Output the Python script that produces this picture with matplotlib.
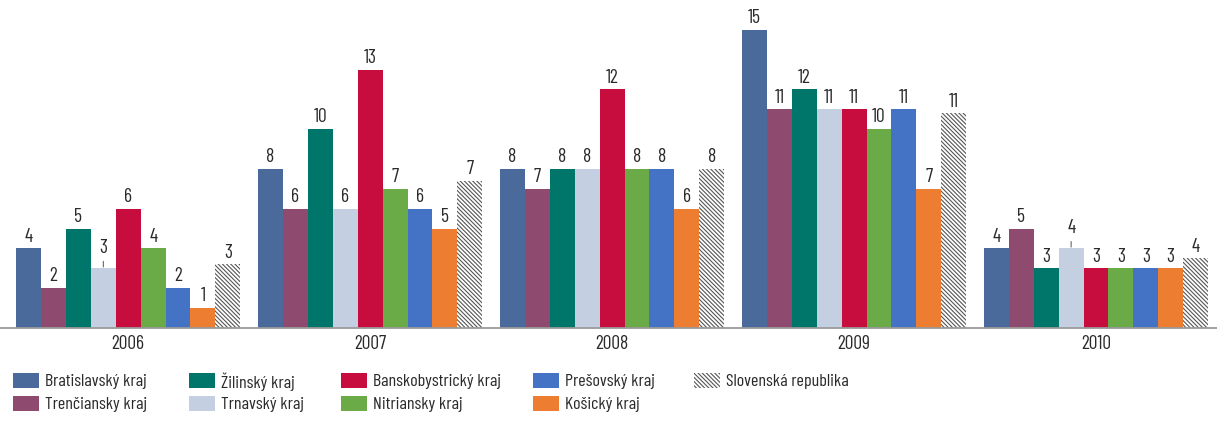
import numpy as np
import matplotlib.pyplot as plt
from matplotlib.patches import Rectangle

plt.rcParams['font.family'] = ['Barlow Condensed', 'DejaVu Sans']
plt.rcParams['hatch.linewidth'] = 0.8
plt.rcParams['hatch.color'] = '#555555'

years = ['2006', '2007', '2008', '2009', '2010']
regions = ['Bratislavský kraj', 'Trenčiansky kraj', 'Žilinský kraj', 'Trnavský kraj',
           'Banskobystrický kraj', 'Nitriansky kraj', 'Prešovský kraj', 'Košický kraj',
           'Slovenská republika']

bratislavsky = [4, 8, 8, 15, 4]
trenciansky = [2, 6, 7, 11, 5]
zilinsky = [5, 10, 8, 12, 3]
trnavsky = [3, 6, 8, 11, 4]
banskobystricky = [6, 13, 12, 11, 3]
nitriansky = [4, 7, 8, 10, 3]
presovsky = [2, 6, 8, 11, 3]
kosicky = [1, 5, 6, 7, 3]
slovensko = [3.2, 7.4, 8.0, 10.8, 3.5]

series = [bratislavsky, trenciansky, zilinsky, trnavsky, banskobystricky,
          nitriansky, presovsky, kosicky, slovensko]
colors = ['#4a6a9b', '#8f4b6f', '#00766b', '#c4cfe1', '#c60d3d',
          '#6aab47', '#4472c4', '#ed7d31', 'white']
HATCH = '\\' * 8
TXT = '#2a2a2a'

# labels that sit a bit higher, with a short leader line (year index, series index)
raised = {(0, 3), (4, 3)}

W, H = 1217, 421
fig = plt.figure(figsize=(W / 100, H / 100), dpi=100)
ax = fig.add_axes([0.0, 0.221, 1.0, 0.779])

x = np.arange(len(years))
n = len(series)
w = 0.926 / n

for i, (vals, c) in enumerate(zip(series, colors)):
    pos = x - 0.463 + w * (i + 0.5)
    if i == n - 1:
        bars = ax.bar(pos, vals, w, color='white', edgecolor='#555555',
                      hatch=HATCH, linewidth=0)
    else:
        bars = ax.bar(pos, vals, w, color=c, linewidth=0)
    for j, (b, v) in enumerate(zip(bars, vals)):
        lab = str(int(np.floor(v + 0.5)))
        xc = b.get_x() + b.get_width() / 2
        if (j, i) in raised:
            ax.annotate(lab, (xc, v), xytext=(0, 8), textcoords='offset points',
                        ha='center', va='bottom', fontsize=14, color=TXT,
                        arrowprops=dict(arrowstyle='-', color='#666666', lw=0.8,
                                        shrinkA=1, shrinkB=1))
        else:
            ax.annotate(lab, (xc, v), xytext=(0, 2), textcoords='offset points',
                        ha='center', va='bottom', fontsize=14, color=TXT)

ax.set_xlim(-0.53, 4.5)
ax.set_ylim(0, 16.5)
ax.set_yticks([])
ax.set_xticks(x)
ax.set_xticklabels(years, fontsize=14, color=TXT)
ax.tick_params(axis='x', length=0, pad=5)
for s in ['top', 'right', 'left']:
    ax.spines[s].set_visible(False)
ax.spines['bottom'].set_color('#9a9a9a')
ax.spines['bottom'].set_linewidth(1.3)

# legend: five columns, two rows, drawn in pixel positions
col_x = [13, 189, 341, 533, 694]
row_y = [380, 403]
hw, hh = 26, 15
for k, (name, c) in enumerate(zip(regions, colors)):
    cx = col_x[k // 2]
    cy = row_y[k % 2]
    rect = Rectangle((cx / W, (H - cy - hh / 2) / H), hw / W, hh / H,
                     transform=fig.transFigure, linewidth=0,
                     facecolor=c, edgecolor='#555555',
                     hatch=HATCH if name == 'Slovenská republika' else None)
    fig.patches.append(rect)
    fig.text((cx + hw + 6) / W, (H - cy) / H, name, ha='left', va='center_baseline',
             fontsize=13, color=TXT)

fig.savefig('out.png', dpi=100)
